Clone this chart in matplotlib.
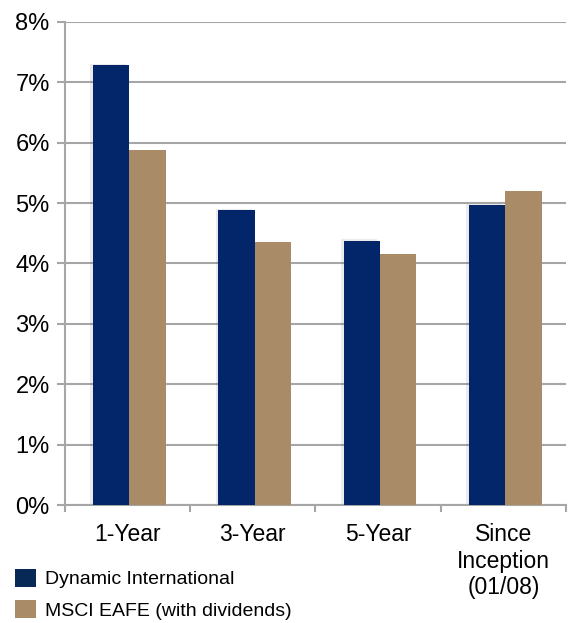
import matplotlib
matplotlib.use("Agg")
import matplotlib.pyplot as plt
import matplotlib.patheffects as pe
from matplotlib.patches import Patch
from matplotlib.ticker import FuncFormatter, FixedLocator
import numpy as np

plt.rcParams['font.family'] = ['Liberation Sans', 'DejaVu Sans']

categories = ["1-Year", "3-Year", "5-Year", "Since\nInception\n(01/08)"]
dynamic_intl = [7.28, 4.88, 4.38, 4.97]
msci_eafe = [5.88, 4.36, 4.15, 5.20]
series_names = ["Dynamic International", "MSCI EAFE (with dividends)"]

navy = "#03256A"
tan = "#A98C67"
grid_grey = "#A6A6A6"

fig = plt.figure(figsize=(5.68, 6.23), dpi=100)
ax = fig.add_axes([0.1144, 0.1894, 0.882, 0.7753])

x = np.arange(len(categories))
w = 0.29
shadow = [pe.SimplePatchShadow(offset=(-2, 1), alpha=0.1, shadow_rgbFace="#444444"), pe.Normal()]
b1 = ax.bar(x - w / 2 + 0.015, dynamic_intl, width=w, color=navy, zorder=3)
b2 = ax.bar(x + w / 2 + 0.015, msci_eafe, width=w, color=tan, zorder=3)
for bar in b1:
    bar.set_path_effects(shadow)

ax.set_xlim(-0.5, len(categories) - 0.5)
ax.set_ylim(0, 8)
ax.set_yticks(np.arange(0, 9, 1))
ax.yaxis.set_major_formatter(FuncFormatter(lambda v, p: f"{v:.0f}%"))
ax.yaxis.grid(True, color=grid_grey, linewidth=1.5, zorder=0)
ax.set_axisbelow(True)

ax.set_xticks(x)
ax.set_xticklabels(categories, fontsize=16.5, linespacing=1.2, va="top")
ax.xaxis.set_minor_locator(FixedLocator(np.arange(-0.5, len(categories), 1)))
ax.tick_params(axis="x", which="major", length=0, pad=13)
ax.tick_params(axis="x", which="minor", length=5, width=1.5, color=grid_grey)
ax.tick_params(axis="y", length=6, width=1.5, color=grid_grey, labelsize=17, pad=5)

for s in ["top", "right"]:
    ax.spines[s].set_visible(False)
for s in ["left", "bottom"]:
    ax.spines[s].set_color(grid_grey)
    ax.spines[s].set_linewidth(1.5)

handles = [Patch(facecolor="#062A55"), Patch(facecolor=tan)]
fig.legend(handles, series_names, loc="upper left", bbox_to_anchor=(0.027, 0.087),
           frameon=False, fontsize=14, handlelength=1.05, handleheight=1.05,
           handletextpad=0.45, labelspacing=0.6, borderpad=0, borderaxespad=0)

fig.savefig("out.png", dpi=100)
